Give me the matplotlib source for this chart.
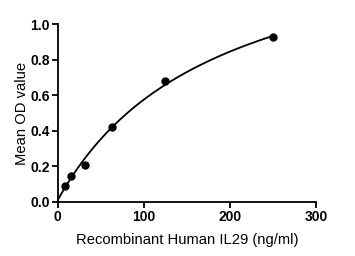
import numpy as np
import matplotlib
matplotlib.use("Agg")
import matplotlib.pyplot as plt

plt.rcParams['font.family'] = ['Liberation Sans', 'DejaVu Sans']

# Standard curve data
conc = [7.8, 15.6, 31.25, 62.5, 125, 250]
od = [0.09, 0.145, 0.21, 0.42, 0.68, 0.925]

x_ticks = [0, 100, 200, 300]
y_ticks = [0.0, 0.2, 0.4, 0.6, 0.8, 1.0]

# saturating fit y = a + b*x/(k+x), best k by grid search
x = np.array(conc)
y = np.array(od)
best = None
for k in np.linspace(50, 2000, 2000):
    A = np.column_stack([np.ones_like(x), x / (k + x)])
    sol, res, _, _ = np.linalg.lstsq(A, y, rcond=None)
    err = np.sum((A @ sol - y) ** 2)
    if best is None or err < best[0]:
        best = (err, k, sol)
_, k, (a, b) = best
xs = np.linspace(0, 250, 200)
ys = a + b * xs / (k + xs)

fig = plt.figure(figsize=(3.55, 2.56), dpi=100)
ax = fig.add_axes([0.163, 0.211, 0.727, 0.695])

ax.plot(xs, ys, color='black', lw=1.3)
ax.plot(conc, od, 'o', color='black', ms=5)

ax.set_xlim(0, 300)
ax.set_ylim(0, 1.0)
ax.set_xticks(x_ticks)
ax.set_yticks(y_ticks)
ax.set_yticklabels(['%.1f' % v for v in y_ticks])
ax.tick_params(direction='out', length=4, width=1.3, labelsize=10, pad=2)
for lbl in ax.get_xticklabels() + ax.get_yticklabels():
    lbl.set_fontweight('bold')

ax.spines['top'].set_visible(False)
ax.spines['right'].set_visible(False)
ax.spines['left'].set_linewidth(1.3)
ax.spines['bottom'].set_linewidth(1.3)

ax.set_xlabel('Recombinant Human IL29 (ng/ml)', fontsize=10.6, labelpad=6)
ax.set_ylabel('Mean OD value', fontsize=10.6, labelpad=1)

fig.savefig('out.png', dpi=100)
